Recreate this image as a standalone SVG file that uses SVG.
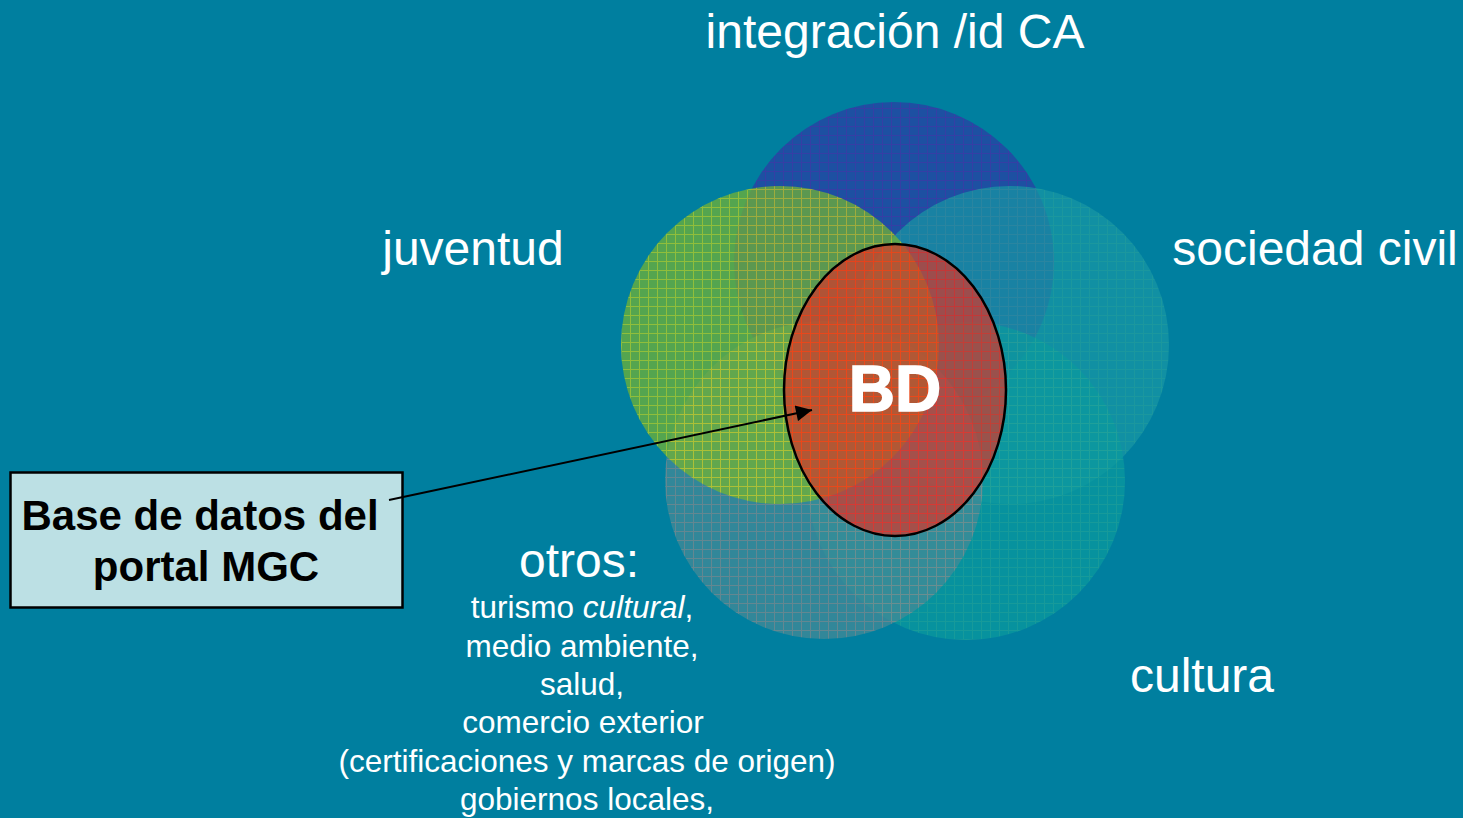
<svg xmlns="http://www.w3.org/2000/svg" width="1463" height="818" viewBox="0 0 1463 818">
<style>
.lbl{font-family:"Liberation Sans",Arial,sans-serif;fill:#ffffff;text-anchor:middle}
.big{font-size:48px}
.small{font-size:31.5px}
.box{font-family:"Liberation Sans",Arial,sans-serif;font-weight:bold;font-size:42px;fill:#000;text-anchor:middle}
.circ{opacity:0.72}
</style>
<defs>
<pattern id="pBlue" width="9" height="9" patternUnits="userSpaceOnUse">
<rect width="9" height="9" fill="#2248a2"/><path d="M0 0.5H9M0.5 0V9" stroke="#3e34a6" stroke-width="1"/>
</pattern>
<pattern id="pGreen" width="9" height="9" patternUnits="userSpaceOnUse">
<rect width="9" height="9" fill="#74b430"/><path d="M0 0.5H9M0.5 0V9" stroke="#c8d614" stroke-width="1"/>
</pattern>
<pattern id="pTealR" width="9" height="9" patternUnits="userSpaceOnUse">
<rect width="9" height="9" fill="#1896a4"/><path d="M0 0.5H9M0.5 0V9" stroke="#26a09e" stroke-width="1"/>
</pattern>
<pattern id="pGrey" width="9" height="9" patternUnits="userSpaceOnUse">
<rect width="9" height="9" fill="#468a96"/><path d="M0 0.5H9M0.5 0V9" stroke="#8a8a8c" stroke-width="1"/>
</pattern>
<pattern id="pTealB" width="9" height="9" patternUnits="userSpaceOnUse">
<rect width="9" height="9" fill="#0a9a9e"/><path d="M0 0.5H9M0.5 0V9" stroke="#20a498" stroke-width="1"/>
</pattern>
<pattern id="pRed" width="9" height="9" patternUnits="userSpaceOnUse">
<rect width="9" height="9" fill="#d0382c"/><path d="M0 0.5H9M0.5 0V9" stroke="#ff1a10" stroke-width="1"/>
</pattern>
<marker id="arrow" viewBox="0 0 10 10" refX="10" refY="5" markerWidth="10" markerHeight="8" markerUnits="strokeWidth" orient="auto">
<path d="M0 0L10 5L0 10z" fill="#000"/>
</marker>
</defs>
<rect width="1463" height="818" fill="#007f9f"/>
<g id="circle-integracion"><circle cx="894" cy="262" r="160" fill="url(#pBlue)" opacity="0.85"/></g>
<g id="circle-sociedad"><circle class="circ" cx="1010" cy="345" r="159" fill="url(#pTealR)" opacity="0.65"/></g>
<g id="circle-cultura"><circle class="circ" cx="966" cy="481" r="159" fill="url(#pTealB)"/></g>
<g id="circle-otros"><circle class="circ" cx="824" cy="480" r="159" fill="url(#pGrey)"/></g>
<g id="circle-juventud"><circle class="circ" cx="780" cy="345" r="159" fill="url(#pGreen)"/></g>
<g id="node-bd">
<ellipse cx="895" cy="390" rx="111" ry="146" fill="url(#pRed)" opacity="0.72"/>
<ellipse cx="895" cy="390" rx="111" ry="146" fill="none" stroke="#000" stroke-width="2.5"/>
<text x="895" y="411" font-family="'Liberation Sans',Arial,sans-serif" font-weight="bold" font-size="64" fill="#fff" stroke="#fff" stroke-width="1.5" text-anchor="middle">BD</text>
</g>
<g id="labels">
<text class="lbl big" x="895" y="48">integración /id CA</text>
<text class="lbl big" x="473" y="265">juventud</text>
<text class="lbl big" x="1315" y="265">sociedad civil</text>
<text class="lbl big" x="1202" y="692">cultura</text>
<text class="lbl big" x="579" y="577" font-size="46">otros:</text>
<text class="lbl small" x="582" y="618">turismo <tspan font-style="italic">cultural</tspan>,</text>
<text class="lbl small" x="582" y="657">medio ambiente,</text>
<text class="lbl small" x="582" y="695">salud,</text>
<text class="lbl small" x="583" y="733">comercio exterior</text>
<text class="lbl small" x="587" y="772">(certificaciones y marcas de origen)</text>
<text class="lbl small" x="587" y="810">gobiernos locales,</text>
</g>
<g id="node-box">
<rect x="10.5" y="472.5" width="392" height="135" fill="#bce0e4" stroke="#000" stroke-width="2.5"/>
<text class="box" x="200" y="530">Base de datos del</text>
<text class="box" x="206" y="581">portal MGC</text>
</g>
<g id="connectors">
<line x1="389" y1="500" x2="812" y2="410" stroke="#000" stroke-width="2" marker-end="url(#arrow)"/>
</g>
</svg>
